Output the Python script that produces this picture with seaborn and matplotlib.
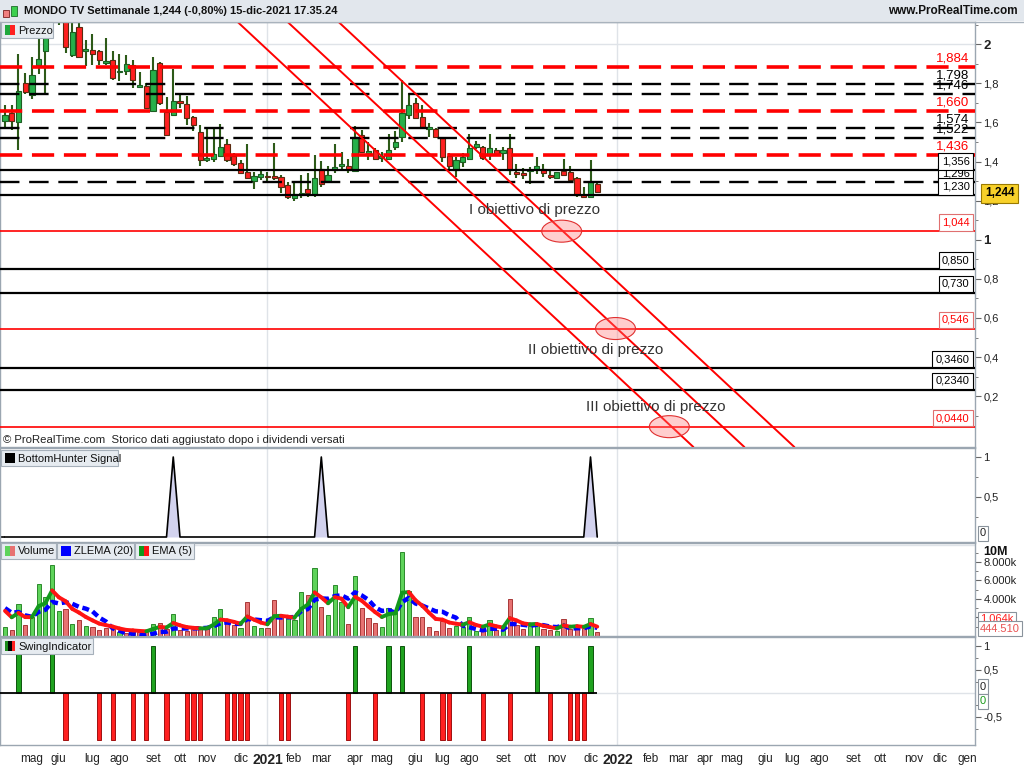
import numpy as np
import pandas as pd
import matplotlib
matplotlib.use("Agg")
import matplotlib.pyplot as plt
import matplotlib.dates as mdates
import matplotlib.transforms as mtrans
from matplotlib.patches import Rectangle, Ellipse
from matplotlib.lines import Line2D
import seaborn as sns

sns.set_style("white")
plt.rcParams["font.family"] = ["Liberation Sans", "DejaVu Sans"]
plt.rcParams["lines.scale_dashes"] = False

# ---------------- data: MONDO TV, weekly bars ----------------
first_week = "2020-04-06"

opens = [1.610, 1.649, 1.601, 1.802, 1.742, 1.896, 1.967, 2.250, 2.400, 2.150,
         1.947, 2.087, 1.967, 1.969, 1.964, 1.904, 1.918, 1.858, 1.862, 1.896,
         1.783, 1.788, 1.657, 1.904, 1.654, 1.640, 1.708, 1.695, 1.630, 1.550,
         1.408, 1.412, 1.429, 1.488, 1.429, 1.394, 1.348, 1.302, 1.323, 1.328,
         1.326, 1.320, 1.280, 1.212, 1.229, 1.258, 1.234, 1.361, 1.302, 1.357,
         1.377, 1.379, 1.353, 1.536, 1.445, 1.459, 1.420, 1.415, 1.476, 1.527,
         1.638, 1.701, 1.627, 1.565, 1.567, 1.519, 1.430, 1.357, 1.400, 1.412,
         1.476, 1.473, 1.434, 1.459, 1.442, 1.468, 1.348, 1.340, 1.350, 1.361,
         1.361, 1.331, 1.315, 1.353, 1.348, 1.315, 1.229, 1.217, 1.285]
highs = [1.690, 1.688, 1.950, 1.853, 1.935, 2.041, 2.140, 2.600, 2.500, 2.220,
         2.140, 2.114, 2.022, 2.053, 1.972, 2.032, 1.964, 1.950, 1.944, 1.921,
         1.858, 1.802, 1.935, 1.909, 1.729, 1.874, 1.751, 1.734, 1.635, 1.589,
         1.573, 1.570, 1.592, 1.514, 1.442, 1.408, 1.490, 1.348, 1.352, 1.348,
         1.494, 1.331, 1.297, 1.294, 1.331, 1.340, 1.434, 1.405, 1.377, 1.490,
         1.448, 1.412, 1.582, 1.562, 1.502, 1.468, 1.451, 1.541, 1.558, 1.817,
         1.749, 1.724, 1.690, 1.596, 1.570, 1.524, 1.442, 1.425, 1.442, 1.541,
         1.505, 1.480, 1.541, 1.468, 1.473, 1.541, 1.388, 1.366, 1.371, 1.425,
         1.388, 1.357, 1.348, 1.413, 1.377, 1.320, 1.268, 1.408, 1.302]
lows = [1.567, 1.563, 1.461, 1.746, 1.722, 1.848, 1.751, 2.150, 2.100, 1.955,
        1.933, 1.933, 1.887, 1.896, 1.896, 1.896, 1.819, 1.811, 1.841, 1.776,
        1.776, 1.671, 1.657, 1.688, 1.529, 1.637, 1.674, 1.586, 1.558, 1.379,
        1.400, 1.400, 1.422, 1.400, 1.377, 1.335, 1.315, 1.260, 1.306, 1.302,
        1.306, 1.241, 1.207, 1.200, 1.212, 1.220, 1.217, 1.272, 1.289, 1.340,
        1.357, 1.343, 1.352, 1.446, 1.408, 1.408, 1.400, 1.408, 1.459, 1.502,
        1.616, 1.616, 1.565, 1.524, 1.524, 1.400, 1.357, 1.323, 1.374, 1.408,
        1.463, 1.408, 1.408, 1.434, 1.408, 1.331, 1.315, 1.311, 1.285, 1.335,
        1.320, 1.311, 1.311, 1.331, 1.306, 1.220, 1.217, 1.217, 1.241]
closes = [1.640, 1.606, 1.760, 1.756, 1.841, 1.925, 2.032, 2.450, 2.200, 1.985,
          2.063, 1.935, 1.970, 1.950, 1.918, 1.916, 1.828, 1.862, 1.899, 1.819,
          1.793, 1.674, 1.867, 1.700, 1.538, 1.708, 1.698, 1.623, 1.586, 1.410,
          1.420, 1.437, 1.476, 1.408, 1.388, 1.340, 1.315, 1.326, 1.337, 1.320,
          1.316, 1.269, 1.217, 1.233, 1.241, 1.238, 1.315, 1.285, 1.331, 1.371,
          1.388, 1.357, 1.527, 1.451, 1.455, 1.413, 1.430, 1.459, 1.502, 1.647,
          1.689, 1.621, 1.579, 1.575, 1.527, 1.422, 1.378, 1.408, 1.425, 1.468,
          1.490, 1.417, 1.468, 1.439, 1.459, 1.357, 1.337, 1.330, 1.355, 1.377,
          1.343, 1.320, 1.345, 1.331, 1.306, 1.229, 1.217, 1.297, 1.244]

# weekly volume in millions of shares, and bar colour (1 = green, 0 = red)
volumes = [0.94, 0.65, 3.42, 1.15, 2.02, 5.62, 4.18, 7.68, 2.70, 2.92,
           1.26, 1.73, 1.12, 0.94, 0.65, 0.83, 0.72, 0.40, 0.36, 0.50,
           0.43, 0.43, 1.26, 1.44, 0.79, 2.38, 0.65, 0.58, 0.72, 0.72,
           0.83, 2.02, 2.88, 1.55, 1.19, 0.90, 3.68, 1.08, 0.83, 0.90,
           3.89, 2.27, 1.91, 1.73, 4.79, 4.40, 7.32, 3.10, 2.27, 5.51,
           3.71, 1.26, 6.49, 2.99, 1.91, 1.37, 1.01, 2.99, 2.63, 9.12,
           4.90, 2.09, 2.09, 1.01, 0.50, 1.62, 0.83, 1.08, 1.01, 2.02,
           0.58, 0.65, 1.73, 0.65, 0.65, 3.96, 1.19, 0.72, 1.08, 1.37,
           0.72, 0.65, 0.54, 1.80, 0.72, 1.19, 0.83, 1.91, 0.44451]
vol_up = [1, 0, 1, 0, 1, 1, 1, 1, 1, 0,
          1, 0, 1, 0, 0, 0, 0, 1, 0, 0,
          0, 0, 1, 0, 0, 1, 0, 0, 0, 0,
          0, 1, 1, 0, 0, 1, 0, 1, 1, 0,
          0, 0, 1, 1, 1, 0, 1, 0, 1, 1,
          1, 0, 1, 0, 0, 0, 1, 1, 1, 1,
          1, 0, 0, 0, 0, 0, 0, 1, 1, 1,
          1, 0, 1, 0, 1, 0, 0, 0, 1, 1,
          0, 0, 1, 0, 0, 0, 0, 1, 0]
ema5_seed = 3.6      # value of the moving averages before the first visible bar
zlema_seed = 3.5

# BottomHunter signal and SwingIndicator
bottom_signal = [0] * 25 + [1] + [0] * 21 + [1] + [0] * 39 + [1, 0]
swing = [0, 0, 1, 0, 0, 0, 0, 1, 0, -1,
         0, 0, 0, 0, -1, 0, -1, 0, 0, -1,
         0, -1, 1, 0, -1, 0, 0, -1, -1, -1,
         0, 0, 0, -1, -1, -1, -1, 0, 0, 0,
         0, -1, -1, 0, 0, 0, 0, 0, 0, 0,
         0, -1, 1, 0, 0, -1, 0, 1, 0, 1,
         0, 0, -1, 0, 0, -1, -1, 0, 0, 1,
         0, -1, 0, 0, 0, -1, 0, 0, 0, 1,
         0, -1, 0, 0, -1, -1, -1, 1, 0]

# support / resistance levels
level_values = [1.884, 1.798, 1.746, 1.660, 1.574, 1.522, 1.436, 1.356, 1.296,
                1.230, 1.044, 0.850, 0.730, 0.546, 0.3460, 0.2340, 0.0440]
level_labels = ["1,884", "1,798", "1,746", "1,660", "1,574", "1,522", "1,436",
                "1,356", "1,296", "1,230", "1,044", "0,850", "0,730", "0,546",
                "0,3460", "0,2340", "0,0440"]
level_kind = ["rd", "kd", "kd", "rd", "kd", "kd", "rd", "ks", "kd",
              "ks", "rs", "ks", "ks", "rs", "ks", "ks", "rs"]
level_boxed = [0, 0, 0, 0, 0, 0, 0, 1, 1, 1, 1, 1, 1, 1, 1, 1, 1]

# descending trend channel and price targets
trend_start = ["2020-12-04", "2021-01-25", "2021-03-19"]
trend_end = ["2022-03-23", "2022-05-15", "2022-07-06"]
trend_prices = [2.114, -0.060]
target_dates = ["2021-11-06", "2022-01-01", "2022-02-26"]
target_prices = [1.044, 0.546, 0.044]
target_names = ["I obiettivo di prezzo", "II obiettivo di prezzo", "III obiettivo di prezzo"]
target_text_dates = ["2021-10-09", "2021-12-11", "2022-02-12"]
target_text_prices = [1.152, 0.436, 0.145]

month_labels = ["mag", "giu", "lug", "ago", "set", "ott", "nov", "dic", "2021",
                "feb", "mar", "apr", "mag", "giu", "lug", "ago", "set", "ott",
                "nov", "dic", "2022", "feb", "mar", "apr", "mag", "giu", "lug",
                "ago", "set", "ott", "nov", "dic", "gen"]

# ---------------- layout ----------------
W, H = 1024, 768
PLOT_R = 975
PX_PER_DAY = 6.73 / 7

weeks = pd.date_range(first_week, periods=len(closes), freq="7D")
xd = mdates.date2num(weeks)
x_left = xd[0] - 5 / PX_PER_DAY
x_right = x_left + PLOT_R / PX_PER_DAY

# month ticks sit on the first weekly bar of each month
month_starts = pd.date_range("2020-05-01", periods=len(month_labels), freq="MS")
tick_pos = [mdates.date2num(m + pd.offsets.Week(weekday=0) if m.weekday() else m)
            for m in month_starts]
year_pos = [p for p, lab in zip(tick_pos, month_labels) if lab.isdigit()]

GRID = "#dfe3e8"
BORDER = "#9ba6b1"

fig = plt.figure(figsize=(W / 100, H / 100), dpi=100)


def ptext(x, y, s, **kw):
    return fig.text(x / W, 1 - y / H, s, **kw)


def add_panel(top, bottom):
    ax = fig.add_axes([0, 1 - bottom / H, PLOT_R / W, (bottom - top) / H])
    ax.set_xlim(x_left, x_right)
    for sp in ax.spines.values():
        sp.set_color(BORDER)
        sp.set_linewidth(1)
    ax.yaxis.tick_right()
    ax.tick_params(axis="y", which="both", direction="out", colors="#666666",
                   labelcolor="#222222", labelsize=8, length=4, pad=2)
    ax.tick_params(axis="y", which="minor", length=2)
    ax.set_xticks([])
    for p in year_pos:
        ax.axvline(p, color=GRID, lw=1, zorder=0)
    return ax


def legend_box(x, y, w, label, swatch):
    fig.add_artist(Rectangle((x / W, 1 - (y + 16) / H), w / W, 16 / H,
                             transform=fig.transFigure, fc="#e6ebf0",
                             ec="#a6b0ba", lw=0.8, zorder=20))
    sw = 10 / len(swatch)
    for i, col in enumerate(swatch):
        fig.add_artist(Rectangle(((x + 4 + i * sw) / W, 1 - (y + 13) / H), sw / W, 10 / H,
                                 transform=fig.transFigure, fc=col, ec="none", zorder=21))
    ptext(x + 17, y + 8.5, label, fontsize=8, va="center", ha="left", color="#111111", zorder=22)


def box_label(x, y, s, color="#222222", ec="#8a939c", weight="normal", fc="white"):
    ptext(x, y, s, fontsize=8, va="center", ha="left", color=color, fontweight=weight, zorder=25,
          bbox=dict(boxstyle="square,pad=0.2", fc=fc, ec=ec, lw=0.8))


# ---------------- header ----------------
fig.add_artist(Rectangle((0, 1 - 21 / H), 1, 21 / H, transform=fig.transFigure,
                         fc="#e2e7ed", ec="none", zorder=0))
fig.add_artist(Line2D([0, 1], [1 - 21.5 / H] * 2, transform=fig.transFigure,
                      color="#a9b3bd", lw=1))
fig.add_artist(Rectangle((3 / W, 1 - 17 / H), 6 / W, 7 / H, transform=fig.transFigure,
                         fc="#f08080", ec="#7a2020", lw=0.6, zorder=2))
fig.add_artist(Rectangle((11 / W, 1 - 16 / H), 6 / W, 10 / H, transform=fig.transFigure,
                         fc="#3ccf4e", ec="#1d6b2a", lw=0.6, zorder=2))
ptext(24, 11, "MONDO TV Settimanale 1,244 (-0,80%) 15-dic-2021 17.35.24",
      fontsize=8, fontweight="bold", va="center", color="#111111")
ptext(1018, 11, "www.ProRealTime.com", fontsize=8.5, fontweight="bold",
      va="center", ha="right", color="#111111")

# ---------------- price panel ----------------
ax_p = add_panel(22, 447)
ax_p.set_ylim(-0.060, 2.114)
ax_p.axhline(2.0, color=GRID, lw=1, zorder=0)

o, h, l, c = map(np.array, (opens, highs, lows, closes))
rising = c >= o
body_low = np.minimum(o, c)
body_h = np.maximum(np.abs(c - o), 0.007)
ax_p.vlines(xd, l, h, color="#2d5a18", lw=1.5, zorder=3)
ax_p.bar(xd[rising], body_h[rising], bottom=body_low[rising], width=5.4,
         color="#27b04a", edgecolor="#1d5e22", lw=0.8, zorder=4)
ax_p.bar(xd[~rising], body_h[~rising], bottom=body_low[~rising], width=5.4,
         color="#ff2020", edgecolor="#5a2a10", lw=0.8, zorder=4)

styles = {"rd": dict(color="#ff0000", lw=2.6, ls=(0, (16, 7))),
          "kd": dict(color="black", lw=1.7, ls=(0, (14, 7))),
          "ks": dict(color="black", lw=1.6, ls="-"),
          "rs": dict(color="#ff0000", lw=1.2, ls="-")}
trans = mtrans.blended_transform_factory(ax_p.transAxes, ax_p.transData)
for val, lab, kind, boxed in zip(level_values, level_labels, level_kind, level_boxed):
    ax_p.axhline(val, zorder=5, **styles[kind])
    col = "#ff0000" if kind[0] == "r" else "black"
    if boxed:
        ax_p.annotate(lab, xy=(969.5 / PLOT_R, val), xycoords=trans, xytext=(0, 2.6),
                      textcoords="offset points", ha="right", va="bottom", fontsize=8,
                      color=col, zorder=7 if kind == "kd" else 8,
                      bbox=dict(boxstyle="square,pad=0.3", fc="white",
                                ec="#e07070" if kind[0] == "r" else "black", lw=0.8))
    else:
        ax_p.annotate(lab, xy=(969 / PLOT_R, val), xycoords=trans, xytext=(0, 1.5),
                      textcoords="offset points", ha="right", va="bottom", fontsize=9.5,
                      color=col, zorder=7)

for s, e in zip(trend_start, trend_end):
    ax_p.plot(mdates.datestr2num([s, e]), trend_prices, color="#ff0000", lw=1.4, zorder=6)

for d, p in zip(target_dates, target_prices):
    ax_p.add_patch(Ellipse((mdates.datestr2num(d), p), width=41.5, height=0.1125,
                           fc=(1, 0.45, 0.45, 0.35), ec="#e03030", lw=0.8, zorder=6))
for d, p, name in zip(target_text_dates, target_text_prices, target_names):
    ax_p.text(mdates.datestr2num(d), p, name, ha="center", va="center",
              fontsize=11, color="#333333", zorder=9)

ax_p.set_yticks(np.arange(0.2, 2.01, 0.2))
ax_p.set_yticklabels(["0,2", "0,4", "0,6", "0,8", "1", "1,2", "1,4", "1,6", "1,8", "2"])
ax_p.set_yticks(np.arange(0.1, 2.11, 0.1), minor=True)
for t in ax_p.get_yticklabels():
    if t.get_text() in ("1", "2"):
        t.set_fontweight("bold")
        t.set_fontsize(9.5)

legend_box(1, 22, 52, "Prezzo", ["#1fa83c", "#ff2020"])
ptext(3, 440, "\u00a9 ProRealTime.com  Storico dati aggiustato dopo i dividendi versati",
      fontsize=8.2, va="center", color="#222222")
ptext(999.5, 193.5, "1,244", ha="center", va="center", fontsize=8.5, fontweight="bold",
      color="black", zorder=26,
      bbox=dict(boxstyle="square,pad=0.32", fc="#f8d12a", ec="#9a7a00", lw=0.8))

# ---------------- BottomHunter Signal ----------------
ax_b = add_panel(448, 542)
ax_b.set_ylim(-0.0625, 1.1125)
ax_b.fill_between(xd, 0, bottom_signal, color="#d2d2ee", lw=0, zorder=1)
ax_b.hlines(0, x_left, xd[0], color="black", lw=1.2, zorder=2)
sns.lineplot(x=xd, y=bottom_signal, ax=ax_b, color="black", lw=1.2, zorder=2)
ax_b.set_ylabel("")
ax_b.set_yticks([0.5, 1])
ax_b.set_yticklabels(["0,5", "1"])
ax_b.set_yticks([0.25, 0.75], minor=True)
legend_box(1, 450, 117, "BottomHunter Signal", ["black"])
box_label(980, 533.5, "0")

# ---------------- Volume ----------------
ax_v = add_panel(543, 636)
vol = np.array(volumes) * 1e6
up = np.array(vol_up, dtype=bool)
ax_v.set_ylim(0, 10.05e6)
ax_v.axhline(9.85e6, color=GRID, lw=1, zorder=0)
ax_v.bar(xd[up], vol[up], width=4.4, color="#5ed35a", edgecolor="#2b8a2b", lw=0.7, zorder=2)
ax_v.bar(xd[~up], vol[~up], width=4.4, color="#e77272", edgecolor="#a83838", lw=0.7, zorder=2)


def ema(series, n, seed):
    a = 2 / (n + 1)
    out, prev = [], seed
    for v in series:
        prev = prev + a * (v - prev)
        out.append(prev)
    return np.array(out)


ema5 = ema(vol, 5, ema5_seed * 1e6)
lag = 9
lagged = np.concatenate([np.full(lag, zlema_seed * 1e6), vol[:-lag]])
zlema = ema(2 * vol - lagged, 20, zlema_seed * 1e6)
ax_v.plot(xd, zlema, color="#0000ff", lw=3.2, ls=(0, (5, 2.8)), zorder=3)
for i in range(1, len(xd)):
    col = "#12991c" if ema5[i] >= ema5[i - 1] else "#ff1414"
    ax_v.plot(xd[i - 1:i + 1], ema5[i - 1:i + 1], color=col, lw=2.8,
              solid_capstyle="round", zorder=4)

ax_v.set_yticks([2e6, 4e6, 6e6, 8e6])
ax_v.set_yticklabels(["2.000k", "4.000k", "6.000k", "8.000k"])
ax_v.set_yticks(np.arange(1e6, 10e6, 1e6), minor=True)
ptext(983, 552, "10M", fontsize=9, fontweight="bold", va="center", color="#111111")
box_label(980, 619, "1.064k", color="#ff2020")
box_label(980, 628.5, "444.510", color="#e85050")
legend_box(1, 543, 55, "Volume", ["#5ed35a", "#e77272"])
legend_box(57, 543, 77, "ZLEMA (20)", ["#0000ff"])
legend_box(135, 543, 59, "EMA (5)", ["#12991c", "#ff1414"])

# ---------------- SwingIndicator ----------------
ax_s = add_panel(637, 745)
sw = np.array(swing)
ax_s.set_ylim(-1.096, 1.202)
ax_s.axhline(0, color=GRID, lw=1, zorder=0)
pos, neg = sw > 0, sw < 0
ax_s.bar(xd[pos], sw[pos], width=4.4, color="#1fa21f", edgecolor="#0c550c", lw=0.7, zorder=2)
ax_s.bar(xd[neg], sw[neg], width=4.4, color="#ff2020", edgecolor="#a01010", lw=0.7, zorder=2)
ax_s.hlines(0, x_left, xd[-1], color="black", lw=1.3, zorder=3)
ax_s.set_yticks([-0.5, 0.5, 1])
ax_s.set_yticklabels(["-0,5", "0,5", "1"])
ax_s.set_yticks([-0.75, -0.25, 0.25, 0.75], minor=True)
box_label(980, 686.5, "0")
box_label(980, 701.5, "0", color="#1a9a1a")
legend_box(1, 638, 92, "SwingIndicator", ["#1a8a1a", "black", "#ff2020"])

ax_s.set_xticks(tick_pos)
ax_s.set_xticklabels(month_labels)
ax_s.tick_params(axis="x", direction="out", length=4, colors="#777777",
                 labelcolor="#222222", labelsize=8.5, pad=2)
for t in ax_s.get_xticklabels():
    if t.get_text().isdigit():
        t.set_fontweight("bold")
        t.set_fontsize(10)

fig.savefig("out.png", dpi=100)
